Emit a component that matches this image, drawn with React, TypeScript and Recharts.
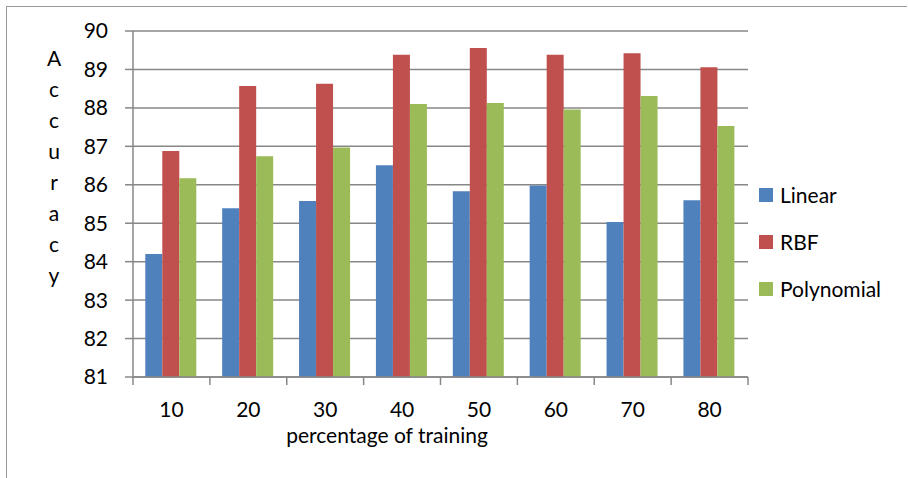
import React from "react";
import { Bar, BarChart, CartesianGrid, Legend, XAxis, YAxis } from "recharts";

const categories = ["10", "20", "30", "40", "50", "60", "70", "80"];
const linear = [84.2, 85.39, 85.58, 86.51, 85.83, 85.98, 85.03, 85.6];
const rbf = [86.88, 88.57, 88.63, 89.38, 89.56, 89.38, 89.42, 89.06];
const polynomial = [86.17, 86.74, 86.97, 88.1, 88.13, 87.96, 88.31, 87.53];
const seriesNames = ["Linear", "RBF", "Polynomial"];
const yTicks = [81, 82, 83, 84, 85, 86, 87, 88, 89, 90];

const data = categories.map((c, i) => ({
  pct: c,
  Linear: linear[i],
  RBF: rbf[i],
  Polynomial: polynomial[i],
}));

const FONT = "Lato, 'Open Sans', sans-serif";
const GRID = "#878787";
const W = 908;
const H = 478;
const LEFT = 133;
const LEGEND_W = 150;
const RIGHT_MARGIN = 10;
const PLOT_W = W - LEFT - RIGHT_MARGIN - LEGEND_W;
const BAND = PLOT_W / categories.length;

const XTick = (props: any) => {
  const { x, y, payload, index } = props;
  const left = x - BAND / 2;
  return (
    <g>
      <line x1={left} y1={y} x2={left} y2={y + 8} stroke={GRID} strokeWidth={1.5} />
      {index === categories.length - 1 && (
        <line x1={x + BAND / 2} y1={y} x2={x + BAND / 2} y2={y + 8} stroke={GRID} strokeWidth={1.5} />
      )}
      <text x={x} y={y + 40} textAnchor="middle" fontFamily={FONT} fontSize={21} fill="#000">
        {payload.value}
      </text>
    </g>
  );
};

const YLabel = () => {
  const letters = "Accuracy".split("");
  return (
    <text fontFamily={FONT} fontSize={21} fill="#000" textAnchor="middle">
      {letters.map((l, i) => (
        <tspan key={i} x={54} y={66 + i * 31}>
          {l}
        </tspan>
      ))}
    </text>
  );
};

const XLabel = () => (
  <text x={387} y={443} textAnchor="middle" fontFamily={FONT} fontSize={21} fill="#000">
    percentage of training
  </text>
);

const LegendBox = (props: any) => {
  const items = [...(props.payload || [])].sort(
    (a: any, b: any) => seriesNames.indexOf(a.value) - seriesNames.indexOf(b.value)
  );
  return (
    <div style={{ fontFamily: FONT, fontSize: 21, color: "#000" }}>
      {items.map((p: any) => (
        <div key={p.value} style={{ display: "flex", alignItems: "center", height: 47 }}>
          <span
            style={{ width: 14, height: 14, background: p.color, display: "inline-block", marginRight: 7 }}
          />
          <span>{p.value}</span>
        </div>
      ))}
    </div>
  );
};

export default function App() {
  return (
    <div style={{ position: "absolute", left: 0, top: 0, width: W, height: H, background: "#fff" }}>
      <div
        style={{
          position: "absolute",
          left: 6,
          top: 6,
          width: 900,
          height: H - 6,
          borderTop: "1.5px solid #999",
          borderLeft: "1.5px solid #999",
        }}
      />
      <BarChart
        width={W}
        height={H}
        data={data}
        margin={{ top: 31, right: RIGHT_MARGIN, bottom: 41, left: 0 }}
        barCategoryGap="16%"
        barGap={0}
        style={{ position: "absolute", left: 0, top: 0 }}
      >
        <CartesianGrid vertical={false} stroke={GRID} strokeWidth={1.5} />
        <XAxis
          dataKey="pct"
          height={60}
          axisLine={{ stroke: GRID, strokeWidth: 1.5 }}
          tickLine={false}
          tickSize={0}
          tickMargin={0}
          interval={0}
          tick={<XTick />}
          label={{ content: <XLabel /> }}
        />
        <YAxis
          width={LEFT}
          domain={[81, 90]}
          ticks={yTicks}
          interval={0}
          allowDataOverflow
          axisLine={{ stroke: GRID, strokeWidth: 1.5 }}
          tickLine={{ stroke: GRID, strokeWidth: 1.5 }}
          tickSize={8}
          tickMargin={17}
          tick={{ fontFamily: FONT, fontSize: 21, fill: "#000" }}
          label={{ content: <YLabel /> }}
        />
        <Legend
          layout="vertical"
          align="right"
          verticalAlign="middle"
          content={<LegendBox />}
          wrapperStyle={{ left: 759, top: 171, width: LEGEND_W }}
        />
        <Bar dataKey="Linear" fill="#4F81BD" isAnimationActive={false} />
        <Bar dataKey="RBF" fill="#C0504D" isAnimationActive={false} />
        <Bar dataKey="Polynomial" fill="#9BBB59" isAnimationActive={false} />
      </BarChart>
    </div>
  );
}
